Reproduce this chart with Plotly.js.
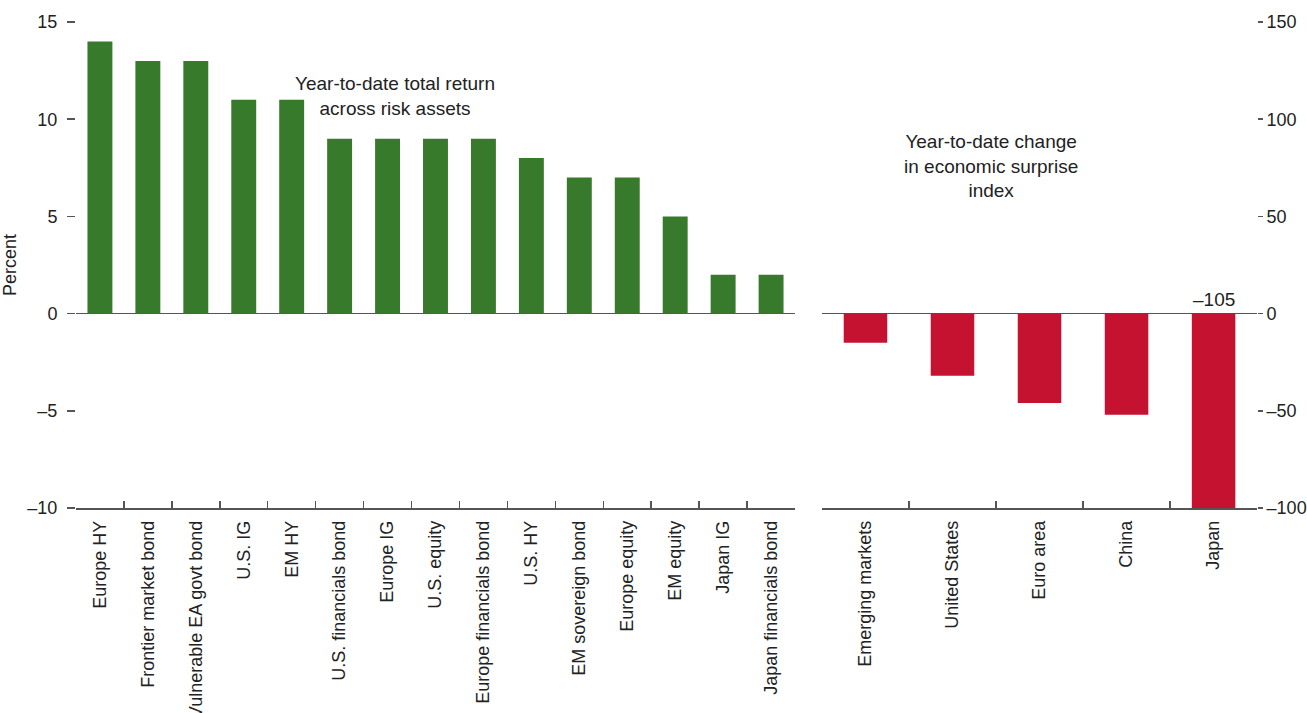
<!DOCTYPE html>
<html>
<head>
<meta charset="utf-8">
<script src="https://cdn.plot.ly/plotly-3.0.1.min.js"></script>
<style>html,body{margin:0;padding:0;background:#fff;}#chart{width:1307px;height:713px;}</style>
</head>
<body>
<div id="chart"></div>
<script>
// Left panel: year-to-date total return across risk assets (percent)
var assetCategories = ["Europe HY","Frontier market bond","Vulnerable EA govt bond","U.S. IG","EM HY","U.S. financials bond","Europe IG","U.S. equity","Europe financials bond","U.S. HY","EM sovereign bond","Europe equity","EM equity","Japan IG","Japan financials bond"];
var assetReturns = [14, 13, 13, 11, 11, 9, 9, 9, 9, 8, 7, 7, 5, 2, 2];

// Right panel: year-to-date change in economic surprise index
var regionCategories = ["Emerging markets","United States","Euro area","China","Japan"];
var surpriseChange = [-15, -32, -46, -52, -105];

var leftTicks = [-10, -5, 0, 5, 10, 15];
var rightTicks = [-100, -50, 0, 50, 100, 150];

var FONT = "Liberation Sans, Arial, Helvetica, sans-serif";
var TXT = "#222222";
var AX = "#555555";

function fmt(v){ return v < 0 ? "\u2013" + Math.abs(v) : String(v); }

var traces = [
  {type:"bar", x:assetCategories, y:assetReturns, xaxis:"x", yaxis:"y",
   marker:{color:"#387a2c"}, width:0.52, hoverinfo:"x+y"},
  {type:"bar", x:regionCategories, y:surpriseChange, xaxis:"x2", yaxis:"y2",
   marker:{color:"#c41230"}, width:0.5, hoverinfo:"x+y"}
];

// label for truncated bar(s) below axis minimum
var annotations = [];
var rMin = -100;
regionCategories.forEach(function(c,i){
  if (surpriseChange[i] < rMin) {
    annotations.push({xref:"x2", yref:"y2", x:c, y:0, text:fmt(surpriseChange[i]),
      showarrow:false, yanchor:"bottom", yshift:2, font:{family:FONT,size:19,color:TXT}});
  }
});
annotations.push({xref:"paper", yref:"paper", x:0.270, y:0.848, xanchor:"center", yanchor:"middle",
  text:"Year-to-date total return<br>across risk assets", showarrow:false, align:"center",
  font:{family:FONT,size:19,color:TXT}});
annotations.push({xref:"paper", yref:"paper", x:0.775, y:0.704, xanchor:"center", yanchor:"middle",
  text:"Year-to-date change<br>in economic surprise<br>index", showarrow:false, align:"center",
  font:{family:FONT,size:19,color:TXT}});

var xcommon = {type:"category", showline:true, linecolor:AX, linewidth:1.5, ticks:"inside",
  tickson:"boundaries", ticklen:7, tickcolor:AX, tickwidth:1.5, tickangle:-90, showgrid:false,
  zeroline:false, ticklabelstandoff:4, tickfont:{family:FONT,size:18,color:TXT}, fixedrange:true};

var layout = {
  width:1307, height:713,
  margin:{l:76, r:50, t:22, b:205},
  paper_bgcolor:"#ffffff", plot_bgcolor:"#ffffff",
  showlegend:false,
  font:{family:FONT,size:18,color:TXT},
  xaxis:Object.assign({}, xcommon, {domain:[0,0.6088], anchor:"y", range:[-0.499, assetCategories.length-0.501]}),
  xaxis2:Object.assign({}, xcommon, {domain:[0.6317,1], anchor:"y2", range:[-0.499, regionCategories.length-0.501]}),
  yaxis:{range:[-10,15], tickvals:leftTicks, ticktext:leftTicks.map(fmt), ticks:"outside", ticklen:8,
    tickcolor:AX, tickwidth:1.5, showline:false, showgrid:false, zeroline:true, zerolinecolor:AX,
    zerolinewidth:1.5, anchor:"x", ticklabelstandoff:6, tickfont:{family:FONT,size:18,color:TXT},
    title:{text:"Percent", standoff:6, font:{family:FONT,size:18,color:TXT}}, fixedrange:true},
  yaxis2:{range:[-100,150], tickvals:rightTicks, ticktext:rightTicks.map(fmt), ticks:"outside", ticklen:5,
    tickcolor:AX, tickwidth:1.5, showline:false, showgrid:false, zeroline:true, zerolinecolor:AX,
    zerolinewidth:1.5, anchor:"x2", side:"right", ticklabelstandoff:0,
    tickfont:{family:FONT,size:18,color:TXT}, fixedrange:true},
  annotations:annotations
};

Plotly.newPlot("chart", traces, layout, {staticPlot:true, displayModeBar:false});
</script>
</body>
</html>
